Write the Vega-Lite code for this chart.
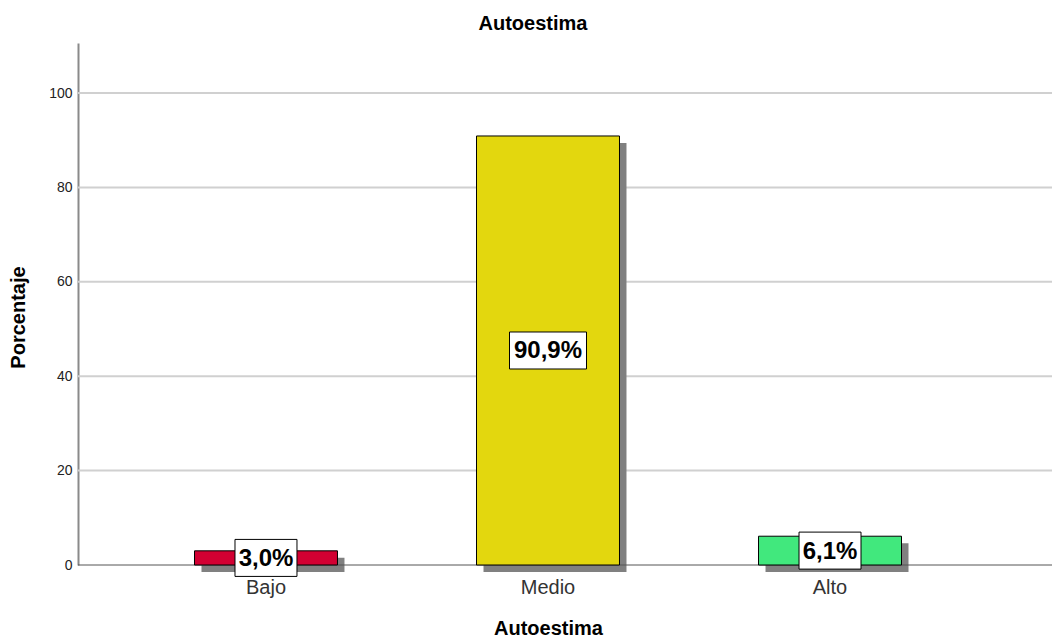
{
  "$schema": "https://vega.github.io/schema/vega-lite/v6.json",
  "autosize": "none",
  "width": 974,
  "height": 522,
  "padding": {"left": 78, "top": 43, "right": 0, "bottom": 72},
  "background": "white",
  "config": {
    "font": "Liberation Sans",
    "view": {"stroke": null}
  },
  "title": {
    "text": "Autoestima",
    "fontSize": 20,
    "fontWeight": "bold",
    "color": "#000000",
    "anchor": "middle",
    "dx": -32,
    "offset": 9
  },
  "data": {
    "values": [
      {"cat": "Bajo", "pct": 3.0, "label": "3,0%"},
      {"cat": "Medio", "pct": 90.9, "label": "90,9%"},
      {"cat": "Alto", "pct": 6.1, "label": "6,1%"}
    ]
  },
  "transform": [{"calculate": "datum.pct / 2", "as": "mid"}],
  "layer": [
    {
      "data": {"values": [{"g": 20}, {"g": 40}, {"g": 60}, {"g": 80}, {"g": 100}]},
      "mark": {"type": "rule", "color": "#d0d0d0", "strokeWidth": 2},
      "encoding": {
        "y": {"field": "g", "type": "quantitative"}
      }
    },
    {
      "mark": {"type": "bar", "color": "#808080", "xOffset": 7, "yOffset": 7},
      "encoding": {
        "x": {
          "field": "cat",
          "type": "nominal",
          "sort": ["Bajo", "Medio", "Alto"],
          "scale": {"domain": ["Bajo", "Medio", "Alto"], "range": [116.5, 823.5], "paddingInner": 0.493, "paddingOuter": 0},
          "axis": {
            "title": "Autoestima",
            "titleFontSize": 20,
            "titleFontWeight": "bold",
            "titleColor": "#000000",
            "titleX": 470,
            "titleAlign": "center",
            "titlePadding": 21,
            "labelAngle": 0,
            "labelFontSize": 20,
            "labelColor": "#333333",
            "labelPadding": 12,
            "ticks": false,
            "domain": false,
            "grid": false
          }
        },
        "y": {
          "field": "pct",
          "type": "quantitative",
          "scale": {"domain": [0, 110.6], "nice": false},
          "axis": {
            "title": "Porcentaje",
            "titleFontSize": 20,
            "titleFontWeight": "bold",
            "titleColor": "#000000",
            "titleY": 274,
            "titlePadding": 20,
            "values": [0, 20, 40, 60, 80, 100],
            "labelFontSize": 14,
            "labelColor": "#222222",
            "labelPadding": 6,
            "ticks": false,
            "domainColor": "#8a8a8a",
            "domainWidth": 2,
            "grid": false
          }
        }
      }
    },
    {
      "data": {"values": [{"g": 0}]},
      "mark": {"type": "rule", "color": "#555555", "strokeWidth": 1},
      "encoding": {
        "y": {"field": "g", "type": "quantitative"}
      }
    },
    {
      "mark": {"type": "bar", "stroke": "#000000", "strokeWidth": 1},
      "encoding": {
        "x": {"field": "cat", "type": "nominal", "sort": ["Bajo", "Medio", "Alto"]},
        "y": {"field": "pct", "type": "quantitative"},
        "color": {
          "field": "cat",
          "type": "nominal",
          "scale": {"domain": ["Bajo", "Medio", "Alto"], "range": ["#D20032", "#E3D70E", "#41E87D"]},
          "legend": null
        }
      }
    },
    {
      "mark": {"type": "point", "filled": true, "fill": "#ffffff", "stroke": "#000000", "strokeWidth": 1, "opacity": 1, "size": 5929},
      "encoding": {
        "x": {"field": "cat", "type": "nominal", "sort": ["Bajo", "Medio", "Alto"]},
        "y": {"field": "mid", "type": "quantitative"},
        "shape": {
          "condition": {"test": "datum.pct >= 10", "value": "M-1,-0.4805L1,-0.4805L1,0.4805L-1,0.4805Z"},
          "value": "M-0.805,-0.4805L0.805,-0.4805L0.805,0.4805L-0.805,0.4805Z"
        }
      }
    },
    {
      "mark": {"type": "text", "fontSize": 24, "fontWeight": "bold", "color": "#000000", "baseline": "middle", "align": "center", "dy": 1},
      "encoding": {
        "x": {"field": "cat", "type": "nominal", "sort": ["Bajo", "Medio", "Alto"]},
        "y": {"field": "mid", "type": "quantitative"},
        "text": {"field": "label"}
      }
    }
  ]
}
